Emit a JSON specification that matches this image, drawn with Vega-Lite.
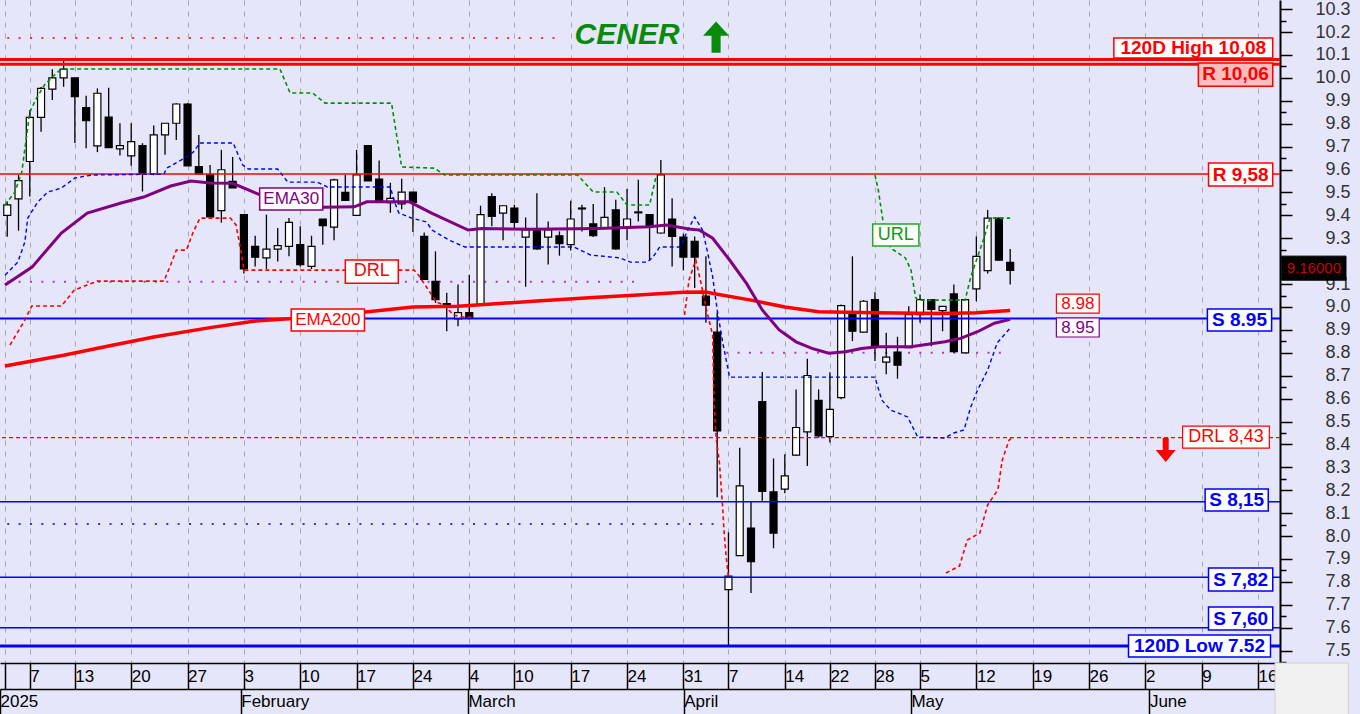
{
"$schema":"https://vega.github.io/schema/vega-lite/v6.json",
"width":1280,"height":663,
"autosize":{"type":"none"},
"padding":{"left":0,"top":0,"right":80,"bottom":51},
"background":"#e6e6fa",
"config":{"view":{"stroke":null,"fill":"#e6e6fa"},"font":"Liberation Sans","axis":{"labelFont":"Liberation Sans","labelOverlap":false},"text":{"font":"Liberation Sans","align":"center","baseline":"middle"}},
"datasets":{
"ohlc":[
{"k":0,"o":9.4,"h":9.46,"l":9.307,"c":9.446},
{"k":1,"o":9.472,"h":9.577,"l":9.333,"c":9.552},
{"k":2,"o":9.635,"h":9.86,"l":9.482,"c":9.828},
{"k":3,"o":9.828,"h":9.96,"l":9.765,"c":9.954},
{"k":4,"o":9.951,"h":10.038,"l":9.904,"c":10.0},
{"k":5,"o":10.0,"h":10.078,"l":9.961,"c":10.038},
{"k":6,"o":10.0,"h":10.0,"l":9.716,"c":9.918},
{"k":7,"o":9.87,"h":9.922,"l":9.693,"c":9.813},
{"k":8,"o":9.703,"h":9.954,"l":9.676,"c":9.933},
{"k":9,"o":9.829,"h":9.957,"l":9.696,"c":9.696},
{"k":10,"o":9.69,"h":9.802,"l":9.661,"c":9.704},
{"k":11,"o":9.66,"h":9.802,"l":9.617,"c":9.722},
{"k":12,"o":9.704,"h":9.715,"l":9.504,"c":9.581},
{"k":13,"o":9.581,"h":9.792,"l":9.575,"c":9.751},
{"k":14,"o":9.751,"h":9.802,"l":9.664,"c":9.802},
{"k":15,"o":9.802,"h":9.889,"l":9.729,"c":9.886},
{"k":16,"o":9.886,"h":9.89,"l":9.616,"c":9.616},
{"k":17,"o":9.613,"h":9.751,"l":9.581,"c":9.581},
{"k":18,"o":9.577,"h":9.62,"l":9.39,"c":9.393},
{"k":19,"o":9.421,"h":9.686,"l":9.368,"c":9.599},
{"k":20,"o":9.548,"h":9.655,"l":9.52,"c":9.52},
{"k":21,"o":9.403,"h":9.403,"l":9.146,"c":9.166},
{"k":22,"o":9.265,"h":9.311,"l":9.177,"c":9.217},
{"k":23,"o":9.214,"h":9.403,"l":9.166,"c":9.253},
{"k":24,"o":9.253,"h":9.345,"l":9.199,"c":9.268},
{"k":25,"o":9.265,"h":9.388,"l":9.221,"c":9.369},
{"k":26,"o":9.272,"h":9.352,"l":9.177,"c":9.185},
{"k":27,"o":9.177,"h":9.311,"l":9.166,"c":9.265},
{"k":28,"o":9.384,"h":9.384,"l":9.272,"c":9.355},
{"k":29,"o":9.349,"h":9.56,"l":9.291,"c":9.555},
{"k":30,"o":9.5,"h":9.577,"l":9.465,"c":9.465},
{"k":31,"o":9.4,"h":9.686,"l":9.4,"c":9.577},
{"k":32,"o":9.704,"h":9.704,"l":9.55,"c":9.55},
{"k":33,"o":9.558,"h":9.639,"l":9.46,"c":9.464},
{"k":34,"o":9.455,"h":9.542,"l":9.411,"c":9.474},
{"k":35,"o":9.45,"h":9.56,"l":9.427,"c":9.501},
{"k":36,"o":9.501,"h":9.501,"l":9.327,"c":9.456},
{"k":37,"o":9.308,"h":9.325,"l":9.12,"c":9.12},
{"k":38,"o":9.112,"h":9.243,"l":9.018,"c":9.032},
{"k":39,"o":9.015,"h":9.062,"l":8.894,"c":9.008},
{"k":40,"o":8.948,"h":9.098,"l":8.916,"c":8.975},
{"k":41,"o":8.975,"h":9.141,"l":8.945,"c":8.953},
{"k":42,"o":9.011,"h":9.442,"l":9.008,"c":9.403},
{"k":43,"o":9.482,"h":9.497,"l":9.352,"c":9.395},
{"k":44,"o":9.41,"h":9.442,"l":9.291,"c":9.442},
{"k":45,"o":9.432,"h":9.446,"l":9.337,"c":9.369},
{"k":46,"o":9.305,"h":9.391,"l":9.088,"c":9.337},
{"k":47,"o":9.333,"h":9.497,"l":9.25,"c":9.254},
{"k":48,"o":9.305,"h":9.373,"l":9.185,"c":9.337},
{"k":49,"o":9.311,"h":9.33,"l":9.224,"c":9.276},
{"k":50,"o":9.272,"h":9.464,"l":9.247,"c":9.384},
{"k":51,"o":9.428,"h":9.446,"l":9.33,"c":9.432},
{"k":52,"o":9.363,"h":9.45,"l":9.305,"c":9.311},
{"k":53,"o":9.345,"h":9.523,"l":9.34,"c":9.391},
{"k":54,"o":9.424,"h":9.468,"l":9.25,"c":9.254},
{"k":55,"o":9.346,"h":9.515,"l":9.291,"c":9.384},
{"k":56,"o":9.411,"h":9.555,"l":9.373,"c":9.415},
{"k":57,"o":9.403,"h":9.403,"l":9.202,"c":9.355},
{"k":58,"o":9.323,"h":9.642,"l":9.32,"c":9.577},
{"k":59,"o":9.384,"h":9.475,"l":9.177,"c":9.308},
{"k":60,"o":9.305,"h":9.32,"l":9.16,"c":9.218},
{"k":61,"o":9.286,"h":9.308,"l":9.083,"c":9.218},
{"k":62,"o":9.047,"h":9.221,"l":8.931,"c":9.008},
{"k":63,"o":8.89,"h":8.976,"l":8.169,"c":8.459},
{"k":64,"o":7.766,"h":8.016,"l":7.52,"c":7.825},
{"k":65,"o":7.915,"h":8.386,"l":7.915,"c":8.219},
{"k":66,"o":8.035,"h":8.15,"l":7.752,"c":7.888},
{"k":67,"o":8.587,"h":8.716,"l":8.154,"c":8.195},
{"k":68,"o":8.193,"h":8.339,"l":7.947,"c":8.013},
{"k":69,"o":8.205,"h":8.357,"l":8.187,"c":8.263},
{"k":70,"o":8.353,"h":8.64,"l":8.35,"c":8.474},
{"k":71,"o":8.455,"h":8.774,"l":8.306,"c":8.701},
{"k":72,"o":8.592,"h":8.64,"l":8.43,"c":8.437},
{"k":73,"o":8.434,"h":8.715,"l":8.408,"c":8.553},
{"k":74,"o":8.604,"h":9.011,"l":8.597,"c":9.006},
{"k":75,"o":8.975,"h":9.221,"l":8.851,"c":8.894},
{"k":76,"o":8.89,"h":9.03,"l":8.89,"c":9.025},
{"k":77,"o":9.032,"h":9.064,"l":8.764,"c":8.829},
{"k":78,"o":8.759,"h":8.887,"l":8.706,"c":8.781},
{"k":79,"o":8.803,"h":8.87,"l":8.687,"c":8.746},
{"k":80,"o":8.822,"h":9.003,"l":8.822,"c":8.967},
{"k":81,"o":8.967,"h":9.054,"l":8.931,"c":9.032},
{"k":82,"o":9.032,"h":9.032,"l":8.829,"c":8.989},
{"k":83,"o":8.984,"h":9.003,"l":8.894,"c":9.003},
{"k":84,"o":9.057,"h":9.098,"l":8.8,"c":8.805},
{"k":85,"o":8.8,"h":9.032,"l":8.8,"c":9.032},
{"k":86,"o":9.079,"h":9.308,"l":9.025,"c":9.221},
{"k":87,"o":9.159,"h":9.424,"l":9.146,"c":9.388},
{"k":88,"o":9.388,"h":9.39,"l":9.204,"c":9.204},
{"k":89,"o":9.195,"h":9.253,"l":9.098,"c":9.16}
],
"lines":[
{"s":"e200","k":-0.2,"v":8.742},{"s":"e200","k":5,"v":8.789},{"s":"e200","k":9,"v":8.83},{"s":"e200","k":13,"v":8.869},{"s":"e200","k":18,"v":8.91},{"s":"e200","k":22,"v":8.939},{"s":"e200","k":26,"v":8.952},{"s":"e200","k":32,"v":8.979},{"s":"e200","k":36,"v":9.0},{"s":"e200","k":40,"v":9.003},{"s":"e200","k":43,"v":9.013},{"s":"e200","k":47,"v":9.026},{"s":"e200","k":52,"v":9.041},{"s":"e200","k":56,"v":9.052},{"s":"e200","k":60,"v":9.064},{"s":"e200","k":62,"v":9.065},{"s":"e200","k":63,"v":9.056},{"s":"e200","k":66,"v":9.03},{"s":"e200","k":69,"v":9.0},{"s":"e200","k":72,"v":8.979},{"s":"e200","k":77,"v":8.975},{"s":"e200","k":83,"v":8.972},{"s":"e200","k":86,"v":8.975},{"s":"e200","k":89,"v":8.985},
{"s":"e30","k":-0.2,"v":9.096},{"s":"e30","k":2.2,"v":9.174},{"s":"e30","k":4.8,"v":9.323},{"s":"e30","k":7.1,"v":9.41},{"s":"e30","k":10.1,"v":9.454},{"s":"e30","k":12.1,"v":9.48},{"s":"e30","k":14.5,"v":9.528},{"s":"e30","k":16.3,"v":9.55},{"s":"e30","k":18,"v":9.541},{"s":"e30","k":20,"v":9.54},{"s":"e30","k":22.5,"v":9.488},{"s":"e30","k":25.3,"v":9.449},{"s":"e30","k":28.1,"v":9.435},{"s":"e30","k":30.8,"v":9.437},{"s":"e30","k":31.9,"v":9.459},{"s":"e30","k":35.7,"v":9.459},{"s":"e30","k":37.7,"v":9.409},{"s":"e30","k":40.9,"v":9.336},{"s":"e30","k":42.1,"v":9.343},{"s":"e30","k":46.5,"v":9.339},{"s":"e30","k":52.4,"v":9.343},{"s":"e30","k":57,"v":9.35},{"s":"e30","k":58.5,"v":9.358},{"s":"e30","k":60.5,"v":9.34},{"s":"e30","k":61.4,"v":9.336},{"s":"e30","k":62.6,"v":9.3},{"s":"e30","k":64.1,"v":9.205},{"s":"e30","k":65.6,"v":9.103},{"s":"e30","k":67,"v":8.987},{"s":"e30","k":68.5,"v":8.9},{"s":"e30","k":70,"v":8.848},{"s":"e30","k":71.4,"v":8.819},{"s":"e30","k":72.9,"v":8.798},{"s":"e30","k":74.4,"v":8.805},{"s":"e30","k":75.8,"v":8.819},{"s":"e30","k":77.3,"v":8.826},{"s":"e30","k":80.2,"v":8.826},{"s":"e30","k":83.2,"v":8.848},{"s":"e30","k":84.6,"v":8.863},{"s":"e30","k":86.1,"v":8.892},{"s":"e30","k":87.6,"v":8.929},{"s":"e30","k":89,"v":8.946},
{"s":"url1","k":-0.2,"v":9.445},{"s":"url1","k":0.68,"v":9.502},{"s":"url1","k":1.29,"v":9.589},{"s":"url1","k":2.0,"v":9.851},{"s":"url1","k":2.6,"v":9.912},{"s":"url1","k":3.3,"v":9.969},{"s":"url1","k":4.0,"v":10.004},{"s":"url1","k":4.8,"v":10.039},{"s":"url1","k":24.2,"v":10.039},{"s":"url1","k":25.1,"v":9.934},{"s":"url1","k":27.1,"v":9.934},{"s":"url1","k":28.2,"v":9.89},{"s":"url1","k":34.1,"v":9.89},{"s":"url1","k":35,"v":9.611},{"s":"url1","k":37.9,"v":9.606},{"s":"url1","k":38.8,"v":9.576},{"s":"url1","k":50.6,"v":9.576},{"s":"url1","k":52,"v":9.502},{"s":"url1","k":54.1,"v":9.502},{"s":"url1","k":55,"v":9.445},{"s":"url1","k":57,"v":9.445},{"s":"url1","k":57.6,"v":9.576},
{"s":"url2","k":77,"v":9.576},{"s":"url2","k":77.3,"v":9.51},{"s":"url2","k":77.7,"v":9.379},{"s":"url2","k":78.4,"v":9.257},{"s":"url2","k":79.7,"v":9.214},{"s":"url2","k":80.2,"v":9.161},{"s":"url2","k":80.6,"v":9.043},{"s":"url2","k":80.8,"v":9.03},{"s":"url2","k":85,"v":9.03},{"s":"url2","k":85.5,"v":9.131},{"s":"url2","k":86.7,"v":9.305},{"s":"url2","k":87.2,"v":9.388},{"s":"url2","k":89,"v":9.388},
{"s":"drl1","k":0.24,"v":8.834},{"s":"drl1","k":1.56,"v":8.943},{"s":"drl1","k":2.17,"v":9.004},{"s":"drl1","k":4.8,"v":9.004},{"s":"drl1","k":5.96,"v":9.074},{"s":"drl1","k":7.1,"v":9.096},{"s":"drl1","k":8.0,"v":9.113},{"s":"drl1","k":13.9,"v":9.113},{"s":"drl1","k":14.5,"v":9.183},{"s":"drl1","k":15.0,"v":9.248},{"s":"drl1","k":15.9,"v":9.248},{"s":"drl1","k":16.5,"v":9.327},{"s":"drl1","k":17.1,"v":9.388},{"s":"drl1","k":19.8,"v":9.388},{"s":"drl1","k":20.3,"v":9.358},{"s":"drl1","k":20.8,"v":9.227},{"s":"drl1","k":21.0,"v":9.161},{"s":"drl1","k":36.1,"v":9.161},{"s":"drl1","k":36.5,"v":9.139},{"s":"drl1","k":37.2,"v":9.087},{"s":"drl1","k":38.1,"v":9.021},{"s":"drl1","k":38.8,"v":9.008},{"s":"drl1","k":39.6,"v":8.965},{"s":"drl1","k":40.5,"v":8.956},{"s":"drl1","k":41.2,"v":8.956},
{"s":"drl2","k":60.1,"v":8.965},{"s":"drl2","k":60.5,"v":9.118},{"s":"drl2","k":61.1,"v":9.205},{"s":"drl2","k":61.6,"v":9.096},{"s":"drl2","k":62.05,"v":8.987},{"s":"drl2","k":62.6,"v":8.877},{"s":"drl2","k":62.7,"v":8.607},{"s":"drl2","k":62.9,"v":8.432},{"s":"drl2","k":63.2,"v":8.319},{"s":"drl2","k":63.5,"v":8.114},{"s":"drl2","k":63.6,"v":8.026},{"s":"drl2","k":63.8,"v":7.908},{"s":"drl2","k":64,"v":7.821},
{"s":"drl3","k":83.3,"v":7.839},{"s":"drl3","k":84.5,"v":7.869},{"s":"drl3","k":85.2,"v":7.983},{"s":"drl3","k":86.3,"v":8.013},{"s":"drl3","k":87,"v":8.136},{"s":"drl3","k":87.9,"v":8.201},{"s":"drl3","k":88.3,"v":8.332},{"s":"drl3","k":88.9,"v":8.419},{"s":"drl3","k":89.2,"v":8.432},
{"s":"lo","k":-0.2,"v":9.139},{"s":"lo","k":0.94,"v":9.196},{"s":"lo","k":1.56,"v":9.283},{"s":"lo","k":1.82,"v":9.388},{"s":"lo","k":2.7,"v":9.458},{"s":"lo","k":3.6,"v":9.502},{"s":"lo","k":4.8,"v":9.519},{"s":"lo","k":6.0,"v":9.563},{"s":"lo","k":7.5,"v":9.576},{"s":"lo","k":13.9,"v":9.58},{"s":"lo","k":14.15,"v":9.606},{"s":"lo","k":15.6,"v":9.646},{"s":"lo","k":16.5,"v":9.676},{"s":"lo","k":17.1,"v":9.716},{"s":"lo","k":20.05,"v":9.716},{"s":"lo","k":20.5,"v":9.663},{"s":"lo","k":20.9,"v":9.62},{"s":"lo","k":21.4,"v":9.602},{"s":"lo","k":24,"v":9.602},{"s":"lo","k":24.9,"v":9.545},{"s":"lo","k":27.5,"v":9.545},{"s":"lo","k":28.4,"v":9.524},{"s":"lo","k":34,"v":9.524},{"s":"lo","k":34.3,"v":9.467},{"s":"lo","k":34.75,"v":9.41},{"s":"lo","k":35.9,"v":9.388},{"s":"lo","k":37.2,"v":9.371},{"s":"lo","k":37.7,"v":9.336},{"s":"lo","k":39.2,"v":9.292},{"s":"lo","k":40.6,"v":9.262},{"s":"lo","k":50.3,"v":9.262},{"s":"lo","k":51.75,"v":9.227},{"s":"lo","k":54.4,"v":9.214},{"s":"lo","k":55.3,"v":9.196},{"s":"lo","k":56.8,"v":9.196},{"s":"lo","k":57.3,"v":9.218},{"s":"lo","k":57.9,"v":9.262},{"s":"lo","k":59.7,"v":9.262},{"s":"lo","k":60.4,"v":9.336},{"s":"lo","k":61,"v":9.393},{"s":"lo","k":61.7,"v":9.336},{"s":"lo","k":62.1,"v":9.249},{"s":"lo","k":62.6,"v":9.131},{"s":"lo","k":63,"v":8.987},{"s":"lo","k":63.5,"v":8.843},{"s":"lo","k":64.1,"v":8.694},{"s":"lo","k":77,"v":8.694},{"s":"lo","k":77.6,"v":8.594},{"s":"lo","k":78.4,"v":8.55},{"s":"lo","k":79.9,"v":8.52},{"s":"lo","k":80.8,"v":8.432},{"s":"lo","k":83.2,"v":8.428},{"s":"lo","k":84,"v":8.45},{"s":"lo","k":84.9,"v":8.463},{"s":"lo","k":85.5,"v":8.563},{"s":"lo","k":86.1,"v":8.637},{"s":"lo","k":87,"v":8.725},{"s":"lo","k":87.85,"v":8.843},{"s":"lo","k":89,"v":8.908},
{"s":"rdot","k":0,"v":10.174},{"s":"rdot","k":49.1,"v":10.174},
{"s":"pdot1","k":0,"v":9.11},{"s":"pdot1","k":56.3,"v":9.11},
{"s":"pdot2","k":63.8,"v":8.8},{"s":"pdot2","k":89,"v":8.8},
{"s":"bdot","k":0,"v":8.053},{"s":"bdot","k":63.2,"v":8.053}
],
"levels":[
{"n":"120D High","v":10.08,"t":"hi"},
{"n":"R","v":10.06,"t":"hi"},
{"n":"R","v":9.58,"t":"r"},
{"n":"S","v":8.95,"t":"s2"},
{"n":"DRL","v":8.43,"t":"drl"},
{"n":"S","v":8.15,"t":"s"},
{"n":"S","v":7.82,"t":"s"},
{"n":"S","v":7.6,"t":"s"},
{"n":"120D Low","v":7.52,"t":"low"}
],
"months":[
{"k":-0.2,"m":"2025"},{"k":21,"m":"February"},{"k":41,"m":"March"},{"k":60,"m":"April"},{"k":80,"m":"May"},{"k":101,"m":"June"}
]
},
"layer":[
{"data":{"values":[{}]},
"layer":[
{"data":{"name":"lines"},"transform":[{"filter":"indexof(['rdot','pdot1','pdot2','bdot'],datum.s)>=0"}],
 "mark":{"type":"line","strokeWidth":2,"strokeDash":[2,9.36]},
 "encoding":{
  "x":{"field":"k","type":"quantitative","scale":{"domain":[-0.2,112.5],"nice":false,"zero":false},
   "axis":{"values":[-0.2,2,6,11,16,21,26,31,36,41,45,50,55,60,64,69,73,77,81,86,91,96,101,106,111],
    "labelExpr":"['','7','13','20','27','3','10','17','24','4','10','17','24','31','7','14','22','28','5','12','19','26','2','9','16'][indexof([-0.2,2,6,11,16,21,26,31,36,41,45,50,55,60,64,69,73,77,81,86,91,96,101,106,111],datum.value)]",
    "title":null,"grid":true,"gridColor":"#a8a8a8","gridDash":[5,6],"gridWidth":1,
    "domainColor":"#000","domainWidth":1.5,"tickColor":"#000","tickSize":26,"tickWidth":1.5,
    "labelAlign":"left","labelBaseline":"middle","labelPadding":-13,"labelDx":3,"labelFontSize":17,"labelColor":"#000","labelOverlap":false,"labelFlush":false,"labelBound":false}},
  "y":{"field":"v","type":"quantitative","scale":{"domain":[7.446,10.34],"nice":false,"zero":false},
   "axis":{"orient":"right","values":[7.45,7.55,7.65,7.75,7.85,7.95,8.05,8.15,8.25,8.35,8.45,8.55,8.65,8.75,8.85,8.95,9.05,9.15,9.25,9.35,9.45,9.55,9.65,9.75,9.85,9.95,10.05,10.15,10.25],
    "title":null,"grid":false,"labels":false,"domainColor":"#000","domainWidth":2,"tickColor":"#000","tickSize":6,"tickWidth":1.5}},
  "color":{"field":"s","type":"nominal","scale":{"domain":["rdot","pdot1","pdot2","bdot"],"range":["#ff3030","#a040c0","#a040c0","#3030ff"]},"legend":null}
 }},
{"data":{"name":"ohlc"},"mark":{"type":"rule","color":"#000","strokeWidth":1.3},
 "encoding":{"x":{"field":"k","type":"quantitative"},"y":{"field":"l","type":"quantitative"},"y2":{"field":"h"}}},
{"data":{"name":"ohlc"},"mark":{"type":"bar","width":7,"stroke":"#000","strokeWidth":1.2},
 "encoding":{"x":{"field":"k","type":"quantitative"},"y":{"field":"o","type":"quantitative"},"y2":{"field":"c"},
  "fill":{"condition":{"test":"datum.c < datum.o","value":"#000000"},"value":"#ffffff"}}},
{"data":{"name":"levels"},"transform":[{"filter":"datum.t=='hi'"}],"mark":{"type":"rule","color":"#ff0000","strokeWidth":3},"encoding":{"y":{"field":"v","type":"quantitative"}}},
{"data":{"name":"levels"},"transform":[{"filter":"datum.t=='r'"}],"mark":{"type":"rule","color":"#ff0000","strokeWidth":1.5},"encoding":{"y":{"field":"v","type":"quantitative"}}},
{"data":{"name":"levels"},"transform":[{"filter":"datum.t=='s2'"}],"mark":{"type":"rule","color":"#0000ff","strokeWidth":2},"encoding":{"y":{"field":"v","type":"quantitative"}}},
{"data":{"name":"levels"},"transform":[{"filter":"datum.t=='s'"}],"mark":{"type":"rule","color":"#0000ff","strokeWidth":1.5},"encoding":{"y":{"field":"v","type":"quantitative"}}},
{"data":{"name":"levels"},"transform":[{"filter":"datum.t=='low'"}],"mark":{"type":"rule","color":"#0000ff","strokeWidth":3},"encoding":{"y":{"field":"v","type":"quantitative"}}},
{"data":{"name":"levels"},"transform":[{"filter":"datum.t=='drl'"}],"mark":{"type":"rule","color":"#ff0000","strokeWidth":1.2,"strokeDash":[4,3]},"encoding":{"y":{"field":"v","type":"quantitative"}}},
{"data":{"name":"lines"},"transform":[{"filter":"indexof(datum.s,'url')==0"}],"mark":{"type":"line","color":"#009000","strokeWidth":1.6,"strokeDash":[4,3]},
 "encoding":{"x":{"field":"k","type":"quantitative"},"y":{"field":"v","type":"quantitative"},"detail":{"field":"s"}}},
{"data":{"name":"lines"},"transform":[{"filter":"indexof(datum.s,'drl')==0"}],"mark":{"type":"line","color":"#ff0000","strokeWidth":1.6,"strokeDash":[4,3]},
 "encoding":{"x":{"field":"k","type":"quantitative"},"y":{"field":"v","type":"quantitative"},"detail":{"field":"s"}}},
{"data":{"name":"lines"},"transform":[{"filter":"datum.s=='lo'"}],"mark":{"type":"line","color":"#0000ff","strokeWidth":1.4,"strokeDash":[4,3]},
 "encoding":{"x":{"field":"k","type":"quantitative"},"y":{"field":"v","type":"quantitative"}}},
{"data":{"name":"lines"},"transform":[{"filter":"datum.s=='e200'"}],"mark":{"type":"line","color":"#ff0000","strokeWidth":3.5},
 "encoding":{"x":{"field":"k","type":"quantitative"},"y":{"field":"v","type":"quantitative"}}},
{"data":{"name":"lines"},"transform":[{"filter":"datum.s=='e30'"}],"mark":{"type":"line","color":"#800080","strokeWidth":3},
 "encoding":{"x":{"field":"k","type":"quantitative"},"y":{"field":"v","type":"quantitative"}}},

{"mark":{"type":"rect","fill":"#ffffff","stroke":"#ff0000","strokeWidth":1.5},"encoding":{"x":{"datum":98.2},"x2":{"datum":112.3},"y":{"datum":10.174},"y2":{"datum":10.087}}},
{"mark":{"type":"text","text":"120D High 10,08","color":"#ff0000","fontSize":19,"fontWeight":"bold"},"encoding":{"x":{"datum":105.25},"y":{"datum":10.13}}},
{"mark":{"type":"rect","fill":"#ffbcbc","stroke":"#ff0000","strokeWidth":1.5},"encoding":{"x":{"datum":105.7},"x2":{"datum":112.3},"y":{"datum":10.065},"y2":{"datum":9.964}}},
{"mark":{"type":"text","text":"R 10,06","color":"#ff0000","fontSize":19,"fontWeight":"bold"},"encoding":{"x":{"datum":109.0},"y":{"datum":10.015}}},
{"mark":{"type":"rect","fill":"#ffffff","stroke":"#ff0000","strokeWidth":1.5},"encoding":{"x":{"datum":106.6},"x2":{"datum":112.3},"y":{"datum":9.628},"y2":{"datum":9.528}}},
{"mark":{"type":"text","text":"R 9,58","color":"#ff0000","fontSize":19,"fontWeight":"bold"},"encoding":{"x":{"datum":109.45},"y":{"datum":9.578}}},
{"mark":{"type":"rect","fill":"#ffffff","stroke":"#0000ff","strokeWidth":1.5},"encoding":{"x":{"datum":106.5},"x2":{"datum":112.2},"y":{"datum":8.991},"y2":{"datum":8.895}}},
{"mark":{"type":"text","text":"S 8.95","color":"#0000ff","fontSize":19,"fontWeight":"bold"},"encoding":{"x":{"datum":109.35},"y":{"datum":8.943}}},
{"mark":{"type":"rect","fill":"#ffffff","stroke":"#ff0000","strokeWidth":1.2},"encoding":{"x":{"datum":93.1},"x2":{"datum":96.9},"y":{"datum":9.056},"y2":{"datum":8.973}}},
{"mark":{"type":"text","text":"8.98","color":"#ff0000","fontSize":17},"encoding":{"x":{"datum":95.0},"y":{"datum":9.015}}},
{"mark":{"type":"rect","fill":"#ffffff","stroke":"#800080","strokeWidth":1.2},"encoding":{"x":{"datum":93.1},"x2":{"datum":96.9},"y":{"datum":8.952},"y2":{"datum":8.869}}},
{"mark":{"type":"text","text":"8.95","color":"#800080","fontSize":17},"encoding":{"x":{"datum":95.0},"y":{"datum":8.91}}},
{"mark":{"type":"rect","fill":"#ffffff","stroke":"#ff0000","strokeWidth":1.2},"encoding":{"x":{"datum":104.3},"x2":{"datum":112.0},"y":{"datum":8.48},"y2":{"datum":8.384}}},
{"mark":{"type":"text","text":"DRL 8,43","color":"#ff0000","fontSize":18},"encoding":{"x":{"datum":108.15},"y":{"datum":8.432}}},
{"mark":{"type":"point","shape":"M-0.3,-1.2L0.3,-1.2L0.3,0L1,0L0,1.2L-1,0L-0.3,0Z","size":400,"filled":true,"color":"#ff0000","opacity":1},"encoding":{"x":{"datum":102.8},"y":{"datum":8.376}}},
{"mark":{"type":"rect","fill":"#ffffff","stroke":"#0000ff","strokeWidth":1.5},"encoding":{"x":{"datum":106.3},"x2":{"datum":111.9},"y":{"datum":8.205},"y2":{"datum":8.109}}},
{"mark":{"type":"text","text":"S 8,15","color":"#0000ff","fontSize":19,"fontWeight":"bold"},"encoding":{"x":{"datum":109.1},"y":{"datum":8.157}}},
{"mark":{"type":"rect","fill":"#ffffff","stroke":"#0000ff","strokeWidth":1.5},"encoding":{"x":{"datum":106.6},"x2":{"datum":112.3},"y":{"datum":7.861},"y2":{"datum":7.76}}},
{"mark":{"type":"text","text":"S 7,82","color":"#0000ff","fontSize":19,"fontWeight":"bold"},"encoding":{"x":{"datum":109.45},"y":{"datum":7.81}}},
{"mark":{"type":"rect","fill":"#ffffff","stroke":"#0000ff","strokeWidth":1.5},"encoding":{"x":{"datum":106.6},"x2":{"datum":112.3},"y":{"datum":7.69},"y2":{"datum":7.59}}},
{"mark":{"type":"text","text":"S 7,60","color":"#0000ff","fontSize":19,"fontWeight":"bold"},"encoding":{"x":{"datum":109.45},"y":{"datum":7.64}}},
{"mark":{"type":"rect","fill":"#ffffff","stroke":"#0000ff","strokeWidth":1.5},"encoding":{"x":{"datum":99.5},"x2":{"datum":112.1},"y":{"datum":7.568},"y2":{"datum":7.472}}},
{"mark":{"type":"text","text":"120D Low 7.52","color":"#0000ff","fontSize":19,"fontWeight":"bold"},"encoding":{"x":{"datum":105.8},"y":{"datum":7.52}}},
{"mark":{"type":"rect","fill":"#ffffff","stroke":"#800080","strokeWidth":1.5},"encoding":{"x":{"datum":22.4},"x2":{"datum":28.0},"y":{"datum":9.519},"y2":{"datum":9.423}}},
{"mark":{"type":"text","text":"EMA30","color":"#800080","fontSize":17},"encoding":{"x":{"datum":25.2},"y":{"datum":9.471}}},
{"mark":{"type":"rect","fill":"#ffffff","stroke":"#ff0000","strokeWidth":1.5},"encoding":{"x":{"datum":25.2},"x2":{"datum":31.7},"y":{"datum":8.991},"y2":{"datum":8.895}}},
{"mark":{"type":"text","text":"EMA200","color":"#ff0000","fontSize":17},"encoding":{"x":{"datum":28.45},"y":{"datum":8.943}}},
{"mark":{"type":"rect","fill":"#ffffff","stroke":"#ff0000","strokeWidth":1.5},"encoding":{"x":{"datum":30.0},"x2":{"datum":34.7},"y":{"datum":9.205},"y2":{"datum":9.104}}},
{"mark":{"type":"text","text":"DRL","color":"#ff0000","fontSize":18},"encoding":{"x":{"datum":32.35},"y":{"datum":9.155}}},
{"mark":{"type":"rect","fill":"#ffffff","stroke":"#22aa22","strokeWidth":1.5},"encoding":{"x":{"datum":76.8},"x2":{"datum":80.9},"y":{"datum":9.362},"y2":{"datum":9.266}}},
{"mark":{"type":"text","text":"URL","color":"#119911","fontSize":18},"encoding":{"x":{"datum":78.85},"y":{"datum":9.314}}},
{"mark":{"type":"text","text":"CENER","color":"#0a8a0a","fontSize":30,"fontWeight":"bold","fontStyle":"italic"},"encoding":{"x":{"datum":55.0},"y":{"datum":10.187}}},
{"mark":{"type":"point","shape":"M0,-1.2L1,-0.1L0.35,-0.1L0.35,1.2L-0.35,1.2L-0.35,-0.1L-1,-0.1Z","size":676,"filled":true,"color":"#0a8a0a","opacity":1},"encoding":{"x":{"datum":62.9},"y":{"datum":10.178}}},
{"mark":{"type":"rect","fill":"#000000","stroke":"#000000"},"encoding":{"x":{"datum":113.1},"x2":{"datum":118.8},"y":{"datum":9.222},"y2":{"datum":9.117}}},
{"mark":{"type":"text","text":"9.16000","color":"#cc0000","fontSize":15},"encoding":{"x":{"datum":115.95},"y":{"datum":9.168}}},
{"mark":{"type":"rect","fill":"#f0f0f0","stroke":"#d0d0d0","strokeWidth":1},"encoding":{"x":{"datum":112.5},"x2":{"datum":119.0},"y":{"datum":7.446},"y2":{"datum":7.2}}}
]},
{"data":{"name":"months"},"mark":{"type":"point","opacity":0},
 "encoding":{
  "x":{"field":"k","type":"quantitative","scale":{"domain":[-0.2,112.5],"nice":false,"zero":false},
   "axis":{"orient":"bottom","offset":26,"values":[-0.2,21,41,60,80,101],
    "labelExpr":"['2025','February','March','April','May','June'][indexof([-0.2,21,41,60,80,101],datum.value)]",
    "title":null,"grid":false,"domainColor":"#000","domainWidth":1.5,"tickColor":"#000","tickSize":25,"tickWidth":1.5,
    "labelAlign":"left","labelBaseline":"middle","labelPadding":-12.5,"labelDx":3,"labelFontSize":17,"labelColor":"#000","labelOverlap":false,"labelFlush":false,"labelBound":false}},
  "y":{"datum":9,"type":"quantitative","scale":{"domain":[7.446,10.34],"nice":false,"zero":false},
   "axis":{"orient":"right","values":[7.5,7.6,7.7,7.8,7.9,8.0,8.1,8.2,8.3,8.4,8.5,8.6,8.7,8.8,8.9,9.0,9.1,9.2,9.3,9.4,9.5,9.6,9.7,9.8,9.9,10.0,10.1,10.2,10.3],
    "labelExpr":"abs(datum.value-9.2)<0.01 ? '' : format(datum.value,'.1f')",
    "title":null,"grid":false,"domain":false,"tickColor":"#000","tickSize":12,"tickWidth":1.5,
    "labelAlign":"right","labelBaseline":"middle","labelPadding":58,"labelFontSize":18,"labelColor":"#333","labelOverlap":false,"labelSeparation":0,"labelFlush":false,"labelBound":false}}
 }}
],
"resolve":{"scale":{"x":"independent","y":"independent"}}
}
